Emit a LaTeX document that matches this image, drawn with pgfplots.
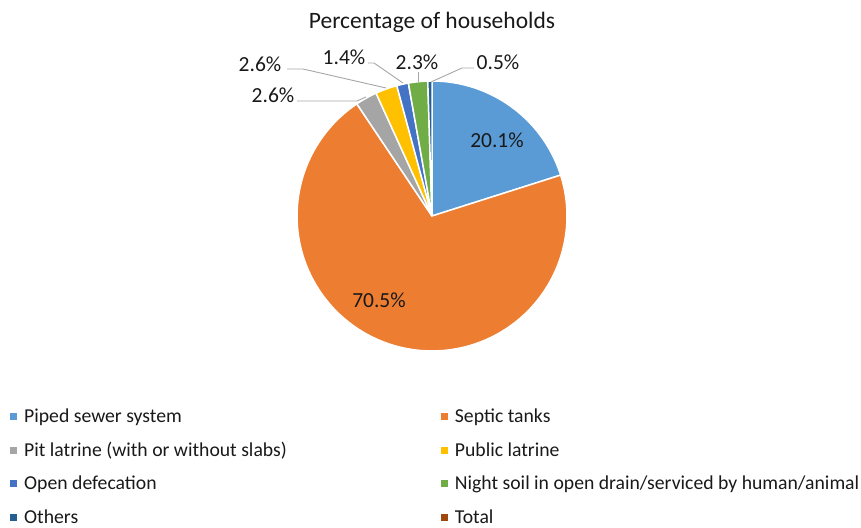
\documentclass[border=0pt]{standalone}
\usepackage{pgfplots}
\pgfplotsset{compat=1.18}
\usepackage{fontspec}
\setmainfont{Carlito}
\definecolor{cPiped}{HTML}{5B9BD5}
\definecolor{cSeptic}{HTML}{ED7D31}
\definecolor{cPit}{HTML}{A5A5A5}
\definecolor{cPublic}{HTML}{FFC000}
\definecolor{cOpen}{HTML}{4472C4}
\definecolor{cNight}{HTML}{70AD47}
\definecolor{cOthers}{HTML}{255E91}
\definecolor{cTotal}{HTML}{9E480E}
\definecolor{leader}{HTML}{A6A6A6}
\begin{document}
\begin{tikzpicture}
\begin{axis}[
  scale only axis, width=861pt, height=527pt,
  xmin=0, xmax=861, ymin=0, ymax=527,
  hide axis, clip=false,
  legend columns=2,
  legend cell align=left,
  legend image code/.code={\fill[#1, draw=none] (0pt,-3.5pt) rectangle (7pt,3.5pt);},
  legend style={at={(axis cs:10,120)}, anchor=north west, draw=none, fill=none,
    font=\fontsize{19.7}{24}\selectfont, text=black!90, inner sep=0pt, row sep=14pt,
    /tikz/column 1/.style={column sep=5pt},
    /tikz/column 3/.style={column sep=5pt},
    /tikz/column 2/.style={column sep=152pt}},
]
\xdef\cum{0}
\foreach \v/\c in {20.1/cPiped,70.5/cSeptic,2.6/cPit,2.6/cPublic,1.4/cOpen,2.3/cNight,0.5/cOthers}{
  \pgfmathsetmacro\a{90-3.6*\cum}
  \pgfmathsetmacro\b{90-3.6*(\cum+\v)}
  \edef\doit{\noexpand\addplot[forget plot, fill=\c, draw=white, line width=1.5pt, domain=\b:\a, samples=80, variable=\noexpand\t] ({432+135*cos(\noexpand\t)},{311+135*sin(\noexpand\t)}) -- (axis cs:432,311) -- cycle;}
  \doit
  \pgfmathsetmacro\nc{\cum+\v}
  \xdef\cum{\nc}
}
% leader lines
\addplot[forget plot, leader, line width=0.9pt] coordinates {(297,426) (357,426) (366,430)};
\addplot[forget plot, leader, line width=0.9pt] coordinates {(287,458) (303,458) (386,439)};
\addplot[forget plot, leader, line width=0.9pt] coordinates {(368,464) (374,464) (403,444)};
\addplot[forget plot, leader, line width=0.9pt] coordinates {(418,455) (418,445)};
\addplot[forget plot, leader, line width=0.9pt] coordinates {(474,459) (462,459) (431,445)};
% legend
\addlegendimage{fill=cPiped}
\addlegendimage{fill=cSeptic}
\addlegendimage{fill=cPit}
\addlegendimage{fill=cPublic}
\addlegendimage{fill=cOpen}
\addlegendimage{fill=cNight}
\addlegendimage{fill=cOthers}
\addlegendimage{fill=cTotal}
\legend{Piped sewer system, Septic tanks, Pit latrine (with or without slabs), Public latrine, Open defecation, Night soil in open drain/serviced by human/animal, Others, Total}
% labels
\begin{scope}[every node/.style={font=\fontsize{21.5}{24}\selectfont, text=black!90}]
\node[font=\fontsize{23.5}{26}\selectfont] at (axis cs:432,505) {Percentage of households};
\node at (axis cs:497,387) {20.1\%};
\node at (axis cs:379,227) {70.5\%};
\node at (axis cs:273,432) {2.6\%};
\node at (axis cs:260,463) {2.6\%};
\node at (axis cs:344,470) {1.4\%};
\node at (axis cs:417,465) {2.3\%};
\node at (axis cs:498,465) {0.5\%};
\end{scope}
\end{axis}
\pgfresetboundingbox
\path[use as bounding box] (current axis.south west) rectangle (current axis.north east);
\end{tikzpicture}
\end{document}
